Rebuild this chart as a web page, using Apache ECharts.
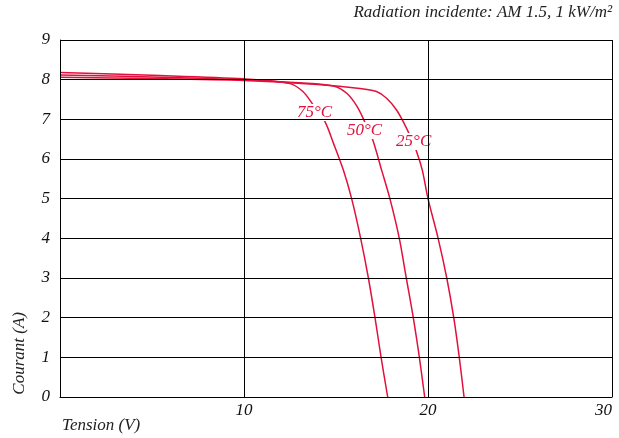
<!DOCTYPE html>
<html>
<head>
<meta charset="utf-8">
<script src="https://cdn.jsdelivr.net/npm/echarts@6/dist/echarts.min.js"></script>
<style>html,body{margin:0;padding:0;background:#fff}#c{width:619px;height:438px}</style>
</head>
<body>
<div id="c"></div>
<script>
var xTicks = [0, 10, 20, 30];
var yTicks = [0, 1, 2, 3, 4, 5, 6, 7, 8, 9];

var v25 = [0, 5, 10, 14, 16.3, 17.2, 17.75, 18.3, 18.7, 19.05, 19.4, 19.69, 20.0, 20.55, 21.02, 21.4, 21.7, 21.96];
var i25 = [8.06, 8.03, 7.98, 7.88, 7.78, 7.70, 7.53, 7.23, 6.90, 6.56, 6.16, 5.72, 5.0, 4.0, 3.0, 2.0, 1.0, 0];

var v50 = [0, 5, 10, 13, 14.86, 15.6, 16.15, 16.6, 17.0, 17.48, 17.93, 18.44, 18.82, 19.2, 19.53, 19.82];
var i50 = [8.12, 8.07, 8.0, 7.92, 7.84, 7.65, 7.32, 6.9, 6.48, 5.72, 5.0, 4.0, 3.0, 2.0, 1.0, 0];

var v75 = [0, 5, 10, 12.5, 13.2, 13.77, 14.4, 14.86, 15.4, 15.85, 16.34, 16.76, 17.12, 17.45, 17.81];
var i75 = [8.18, 8.11, 8.02, 7.9, 7.7, 7.36, 6.94, 6.4, 5.72, 5.0, 4.0, 3.0, 2.0, 1.0, 0];

var labelNames = ['25°C', '50°C', '75°C'];
var labelPos = [[19.22, 6.44], [16.55, 6.72], [13.83, 7.17]];

var RED = '#e2103c';
var FONT = '"Liberation Serif", "DejaVu Serif", serif';

function pairs(v, i) { return v.map(function (x, k) { return [x, i[k]]; }); }

function mkSeries(name, v, i) {
  return {
    name: name, type: 'line', data: pairs(v, i), smooth: 0.3, symbol: 'none',
    lineStyle: { color: RED, width: 1.5 }, z: 2
  };
}

var chart = echarts.init(document.getElementById('c'), null, { renderer: 'canvas' });
chart.setOption({
  animation: false,
  backgroundColor: '#fff',
  grid: { left: 60, right: 7, top: 40, bottom: 41, containLabel: false, outerBoundsMode: 'none' },
  xAxis: {
    type: 'value', min: xTicks[0], max: xTicks[xTicks.length - 1], interval: 10, z: 4,
    axisLine: { lineStyle: { color: '#000', width: 1 } },
    axisTick: { show: false },
    splitLine: { show: true, lineStyle: { color: '#000', width: 1 } },
    axisLabel: {
      color: '#111', fontFamily: FONT, fontStyle: 'italic', fontSize: 17, margin: 5,
      alignMaxLabel: 'right',
      formatter: function (v) { return v === 0 ? '' : String(v); }
    }
  },
  yAxis: {
    type: 'value', min: yTicks[0], max: yTicks[yTicks.length - 1], interval: 1, z: 4,
    axisLine: { show: true, lineStyle: { color: '#000', width: 1 } },
    axisTick: { show: false },
    splitLine: { show: true, lineStyle: { color: '#000', width: 1 } },
    axisLabel: { color: '#111', fontFamily: FONT, fontStyle: 'italic', fontSize: 17, margin: 10 }
  },
  series: [
    mkSeries(labelNames[0], v25, i25),
    mkSeries(labelNames[1], v50, i50),
    mkSeries(labelNames[2], v75, i75),
    {
      type: 'scatter', z: 3, silent: true, symbolSize: 0,
      itemStyle: { color: RED, opacity: 1 },
      data: labelPos.map(function (p, k) { return { value: p, name: labelNames[k] }; }),
      label: {
        show: true, position: 'inside', formatter: '{b}', opacity: 1,
        color: RED, fontFamily: FONT, fontStyle: 'italic', fontSize: 17,
        backgroundColor: '#fff', padding: [0, 1]
      }
    }
  ],
  graphic: [
    { type: 'text', right: 7, top: 4, style: { text: 'Radiation incidente: AM 1.5, 1 kW/m²', fill: '#222', font: 'italic 17px ' + FONT } },
    { type: 'text', left: 62, top: 417, style: { text: 'Tension (V)', fill: '#222', font: 'italic 17px ' + FONT } },
    { type: 'text', left: 11, top: 312, rotation: Math.PI / 2, originX: 0, originY: 0,
      style: { text: 'Courant (A)', fill: '#222', font: 'italic 17px ' + FONT } }
  ]
});
</script>
</body>
</html>
